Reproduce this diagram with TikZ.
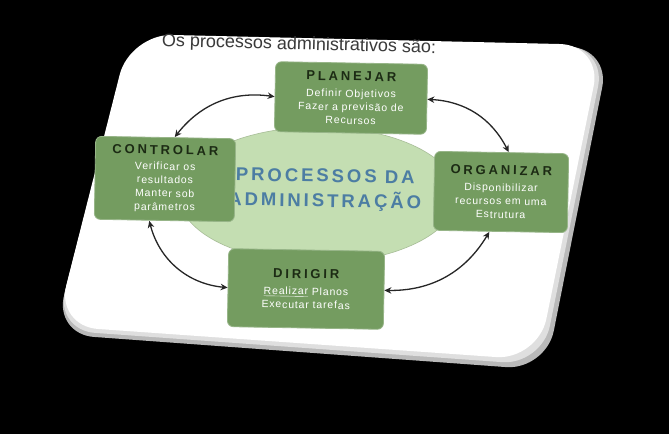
\documentclass[tikz,border=0pt]{standalone}
\usepackage{fontspec}
\setmainfont{Liberation Sans}
\newfontfamily\headfont[LetterSpace=22]{Liberation Sans}
\newfontfamily\bodyfont[LetterSpace=8]{Liberation Sans}
\newfontfamily\bigfont[LetterSpace=16]{Liberation Sans}
\usetikzlibrary{arrows.meta,shapes.geometric}
\definecolor{boxgreen}{HTML}{749C60}
\definecolor{ovalgreen}{HTML}{C4DEB2}
\definecolor{headtxt}{HTML}{1C2B14}
\definecolor{centerblue}{HTML}{4C7DA3}
\definecolor{titlegrey}{HTML}{3A3A3A}
\tikzset{
  proc/.style={rectangle, rounded corners=6pt, fill=boxgreen, draw=boxgreen!75!white,
    line width=0.8pt, align=center, inner sep=2pt, rotate=-1, text=white,
    font=\bodyfont\fontsize{10.5}{13.5}\selectfont},
  cycle/.style={{Stealth[length=7pt,width=6.5pt]}-{Stealth[length=7pt,width=6.5pt]},
    line width=1.3pt, black!85},
}
\newcommand\hd[1]{{\headfont\bfseries\fontsize{13}{15}\selectfont\color{headtxt}#1}}

\begin{document}
\begin{tikzpicture}[x=1pt, y=-1pt]

  \fill[black] (0,0) rectangle (669,434);
  \useasboundingbox (0,0) rectangle (669,434);

  % card
  \fill[gray!55, rounded corners=40pt] (132,36) -- (610,48) -- (546,370) -- (54,334) -- cycle;
  \fill[gray!25, rounded corners=40pt] (131,35) -- (606,47) -- (542,365) -- (55,330) -- cycle;
  \fill[white, rounded corners=42pt] (130,34) -- (602,45) -- (538,360) -- (56,326) -- cycle;

  \node[ellipse, fill=ovalgreen, draw=ovalgreen!85!black, line width=0.6pt,
        minimum width=278pt, minimum height=136pt] (oval) at (318,195) {};
  \node[font=\bigfont\bfseries\fontsize{18.5}{25}\selectfont, text=centerblue,
        align=center, rotate=-1] (core) at (325,190) {PROCESSOS DA\\ADMINISTRAÇÃO};

  \node[proc, minimum width=152pt, minimum height=70pt] (plan) at (351,98)
    {\hd{PLANEJAR}\\[3pt] Definir Objetivos\\ Fazer a previsão de\\ Recursos};
  \node[proc, minimum width=140pt, minimum height=83pt] (ctrl) at (165,179)
    {\hd{CONTROLAR}\\[2pt] Verificar os\\ resultados\\ Manter sob\\ parâmetros};
  \node[proc, minimum width=134pt, minimum height=79pt] (org) at (501,192)
    {\hd{ORGANIZAR}\\[3pt] Disponibilizar\\ recursos em uma\\ Estrutura};
  \node[proc, minimum width=156pt, minimum height=78pt] (dir) at (306,289)
    {\hd{DIRIGIR}\\[3pt] \underline{Realizar} Planos\\ Executar tarefas};

  \draw[cycle] (plan.west) to[bend right=30] ([xshift=9pt]ctrl.north);
  \draw[cycle] (plan.east) to[bend left=30] ([xshift=7pt]org.north);
  \draw[cycle] ([xshift=-15pt]ctrl.south) to[bend right=35] (dir.west);
  \draw[cycle] ([xshift=-11pt]org.south) to[bend left=30] (dir.east);

  \node[text=titlegrey, font=\fontsize{18}{20}\selectfont, rotate=-1.5] (ttl) at (299,45)
    {Os processos administrativos são:};
\end{tikzpicture}
\end{document}
